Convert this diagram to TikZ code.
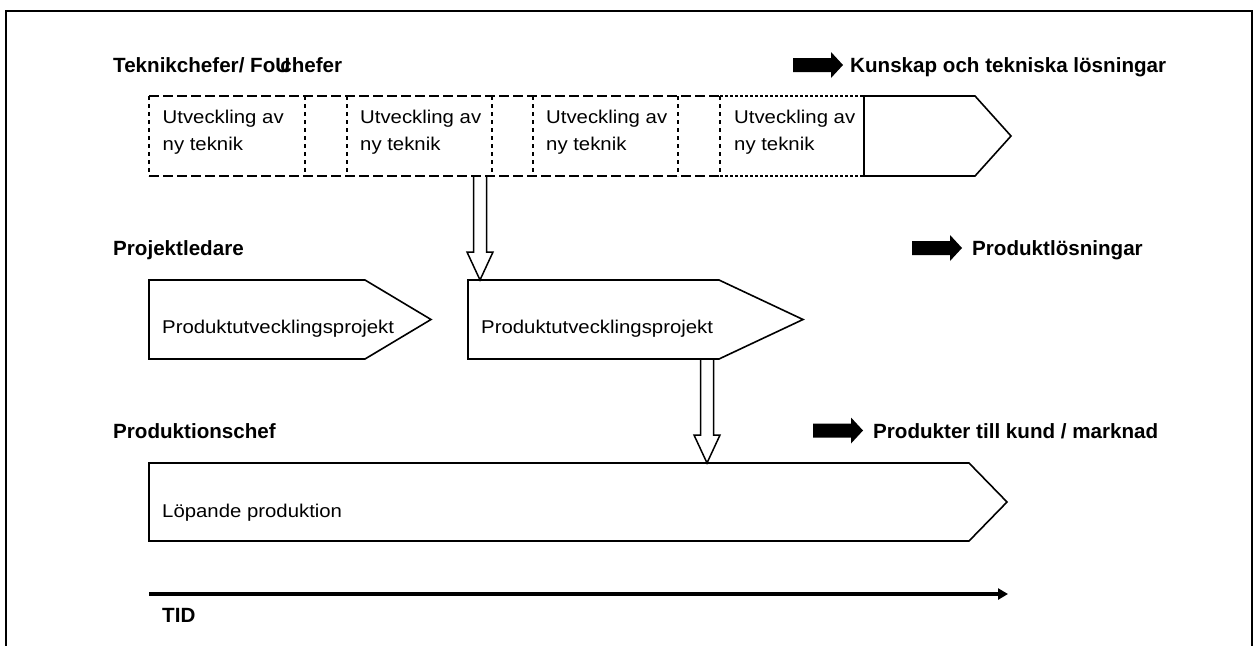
\documentclass[tikz,border=0pt]{standalone}
\usepackage{fontspec}
\setmainfont{Liberation Sans}
\newfontfamily\bodyfont[FakeStretch=1.1]{Liberation Sans}
\usetikzlibrary{calc,arrows.meta}

\tikzset{
  rolelabel/.style={anchor=base west, inner sep=0pt, font=\bfseries\fontsize{20.6}{24}\selectfont},
  boxtext/.style={anchor=north west, inner sep=0pt, align=left, font=\bodyfont\fontsize{18.5}{27}\selectfont},
  chevtext/.style={anchor=base west, inner sep=0pt, font=\bodyfont\fontsize{18.5}{22}\selectfont},
  area/.style={inner sep=0pt, outer sep=0pt, anchor=north west},
  outline/.style={draw=black, line width=1.6pt, line join=miter},
  longdash/.style={line width=1.4pt, dash pattern=on 10pt off 4pt},
  shortdash/.style={line width=1.4pt, dash pattern=on 4pt off 4pt},
  dotline/.style={line width=1.4pt, dash pattern=on 2.5pt off 2.5pt},
  hollow/.style={draw=black, line width=1.5pt, line join=miter},
}

% filled block arrow whose tip is at #1
\newcommand{\blockarrowat}[1]{%
  \fill #1 -- ++(-12,-13) -- ++(0,6) -- ++(-38,0) -- ++(0,14) -- ++(38,0) -- ++(0,6) -- cycle;}

% hollow downward arrow from #1 to #2
\newcommand{\hollowarrow}[2]{%
  \draw[hollow] let \p1=#1, \p2=#2 in
    (\x1-6.5pt,\y1) -- (\x1-6.5pt,\y2+28pt) -- (\x1-13pt,\y2+28pt) -- (\x1,\y2)
    -- (\x1+13pt,\y2+28pt) -- (\x1+6.5pt,\y2+28pt) -- (\x1+6.5pt,\y1);}

\begin{document}
\begin{tikzpicture}[x=1pt,y=-1pt]
\useasboundingbox (0,0) rectangle (1257,645);

% frame
\draw[line width=2pt] (6,650) -- (6,11) -- (1252,11) -- (1252,650);

% ---------- row 1: technology development ----------
\node[rolelabel] (r1) at (113,72) {Teknikchefer/ Fo\kern0pt U\kern-0.48em chefer};
\node[rolelabel] (o1) at (850,72) {Kunskap och tekniska lösningar};
\blockarrowat{($(o1.base west)+(-7,-7)$)}

\node[area, minimum width=156pt, minimum height=80pt] (tb1) at (149,96) {};
\node[area, minimum width=145pt, minimum height=80pt] (tb2) at (347,96) {};
\node[area, minimum width=145pt, minimum height=80pt] (tb3) at (533,96) {};
\node[area, minimum width=144pt, minimum height=80pt] (tb4) at (720,96) {};
\node[area, minimum width=111pt, minimum height=80pt] (tchev) at (864,96) {};

\node[boxtext] (tt1) at ($(tb1.north west)+(13.5,13.5)$) {Utveckling av\\ny teknik};
\node[boxtext] (tt2) at ($(tb2.north west)+(13,13.5)$) {Utveckling av\\ny teknik};
\node[boxtext] (tt3) at ($(tb3.north west)+(13,13.5)$) {Utveckling av\\ny teknik};
\node[boxtext] (tt4) at ($(tb4.north west)+(14,13.5)$) {Utveckling av\\ny teknik};

\draw[longdash] (tb1.north west) -- (tb4.north west);
\draw[longdash] (tb1.south west) -- (tb4.south west);
\draw[dotline] (tb4.north west) -- (tchev.north west);
\draw[dotline] (tb4.south west) -- (tchev.south west);
\foreach \b in {tb1,tb2,tb3}{
  \draw[shortdash] (\b.north west) -- (\b.south west);
  \draw[shortdash] (\b.north east) -- (\b.south east);
}
\draw[shortdash] (tb4.north west) -- (tb4.south west);
\draw[outline] (tchev.north west) -- (tchev.north east) -- ($(tchev.east)+(36,0)$)
  -- (tchev.south east) -- (tchev.south west) -- cycle;

% ---------- row 2: product development projects ----------
\node[rolelabel] (r2) at (113,255) {Projektledare};
\node[rolelabel] (o2) at (972,255) {Produktlösningar};
\blockarrowat{($(o2.base west)+(-10,-7)$)}

\node[area, minimum width=216pt, minimum height=79pt] (pc1) at (149,280) {};
\node[area, minimum width=251pt, minimum height=79pt] (pc2) at (468,280) {};
\draw[outline] (pc1.north west) -- (pc1.north east) -- ($(pc1.east)+(66,0)$)
  -- (pc1.south east) -- (pc1.south west) -- cycle;
\draw[outline] (pc2.north west) -- (pc2.north east) -- ($(pc2.east)+(84,0)$)
  -- (pc2.south east) -- (pc2.south west) -- cycle;
\node[chevtext] (pt1) at (162,333) {Produktutvecklingsprojekt};
\node[chevtext] (pt2) at (481,333) {Produktutvecklingsprojekt};

% ---------- row 3: running production ----------
\node[rolelabel] (r3) at (113,438) {Produktionschef};
\node[rolelabel] (o3) at (873,438) {Produkter till kund / marknad};
\blockarrowat{($(o3.base west)+(-10,-7.5)$)}

\node[area, minimum width=820pt, minimum height=78pt] (pc3) at (149,463) {};
\draw[outline] (pc3.north west) -- (pc3.north east) -- ($(pc3.east)+(38,0)$)
  -- (pc3.south east) -- (pc3.south west) -- cycle;
\node[chevtext] (pt3) at (162,517) {Löpande produktion};

% ---------- hand-over arrows ----------
\coordinate (a1s) at ($(tb2.south east)+(-12,0)$);
\coordinate (a1e) at ($(pc2.north west)+(12,0)$);
\hollowarrow{(a1s)}{(a1e)}
\coordinate (a2s) at ($(pc2.south east)+(-12,0)$);
\coordinate (a2e) at (a2s |- pc3.north);
\hollowarrow{(a2s)}{(a2e)}

% ---------- time axis ----------
\coordinate (t0) at (149,594);
\coordinate (t1) at (1008,594);
\draw[line width=4pt, -{Triangle[length=10pt,width=11pt]}] (t0) -- (t1);
\node[rolelabel] (tid) at (162,622) {TID};

\end{tikzpicture}
\end{document}
